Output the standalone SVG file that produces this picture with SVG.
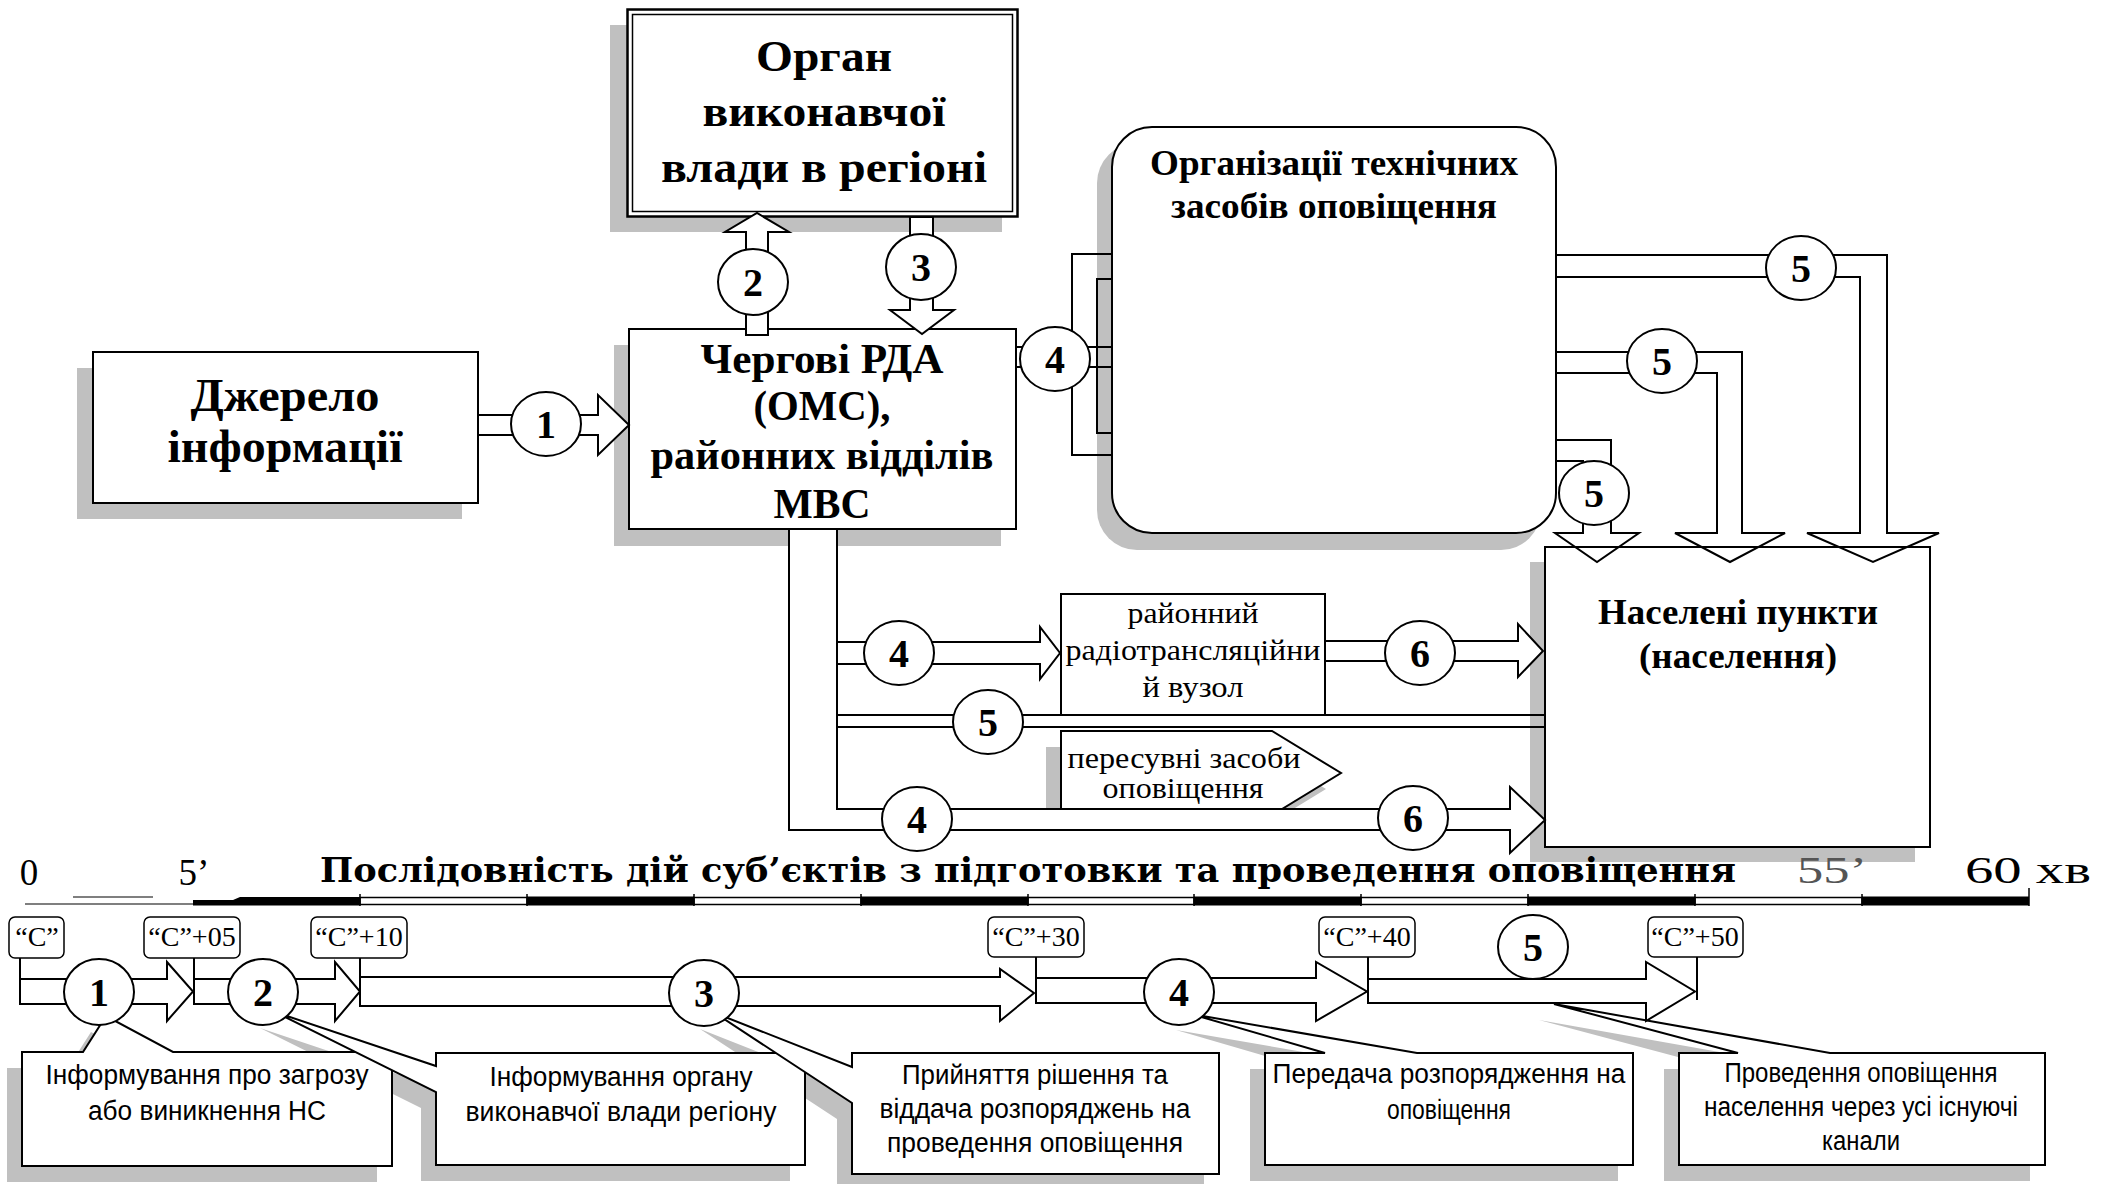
<svg xmlns="http://www.w3.org/2000/svg" width="2107" height="1184" viewBox="0 0 2107 1184">
<style>
.sh{fill:#c0c0c0;stroke:none}
.bx{fill:#fff;stroke:#000;stroke-width:2}
.ln{fill:none;stroke:#000;stroke-width:2}
.ar{fill:#fff;stroke:#000;stroke-width:2;stroke-linejoin:miter}
.arn{fill:none;stroke:#000;stroke-width:2;stroke-linejoin:miter}
.cir{fill:#fff;stroke:#000;stroke-width:2}
.num{font-family:"Liberation Serif",serif;font-weight:bold;font-size:40px;text-anchor:middle}
.hb{font-family:"Liberation Serif",serif;font-weight:bold;text-anchor:middle}
.tr{font-family:"Liberation Serif",serif;text-anchor:middle}
.sa{font-family:"Liberation Sans",sans-serif;text-anchor:middle;font-size:27px}
.tb{fill:#fff;stroke:#000;stroke-width:1.5}
.tl{font-family:"Liberation Serif",serif;font-size:28px;text-anchor:middle}
</style>
<rect x="0" y="0" width="2107" height="1184" fill="#fff"/>

<!-- Nodes: top part -->
<g id="node-dzherelo">
  <rect class="sh" x="77" y="368" width="385" height="151"/>
  <rect class="bx" x="93" y="352" width="385" height="151"/>
  <text class="hb" font-size="46" x="285" y="411" textLength="189" lengthAdjust="spacingAndGlyphs">Джерело</text>
  <text class="hb" font-size="46" x="285" y="462" textLength="235" lengthAdjust="spacingAndGlyphs">інформації</text>
</g>
<g id="node-organ">
  <rect class="sh" x="610" y="25" width="392" height="207"/>
  <rect x="627.5" y="9.5" width="390" height="207" fill="#fff" stroke="#000" stroke-width="2.5"/>
  <rect x="632.5" y="14.5" width="380" height="197" fill="none" stroke="#000" stroke-width="1.5"/>
  <text class="hb" font-size="45" x="824" y="71" textLength="136" lengthAdjust="spacingAndGlyphs">Орган</text>
  <text class="hb" font-size="45" x="824" y="126" textLength="243" lengthAdjust="spacingAndGlyphs">виконавчої</text>
  <text class="hb" font-size="45" x="824" y="182" textLength="326" lengthAdjust="spacingAndGlyphs">влади в регіоні</text>
</g>
<g id="node-chergovi">
  <rect class="sh" x="614" y="345" width="387" height="201"/>
  <rect class="bx" x="629" y="329" width="387" height="200"/>
  <text class="hb" font-size="42" x="822" y="373" textLength="243" lengthAdjust="spacingAndGlyphs">Чергові РДА</text>
  <text class="hb" font-size="42" x="822" y="420" textLength="137" lengthAdjust="spacingAndGlyphs">(ОМС),</text>
  <text class="hb" font-size="42" x="822" y="469" textLength="343" lengthAdjust="spacingAndGlyphs">районних відділів</text>
  <text class="hb" font-size="42" x="822" y="518" textLength="97" lengthAdjust="spacingAndGlyphs">МВС</text>
</g>
<g id="node-orgtech">
  <rect class="sh" x="1097" y="143" width="444" height="407" rx="40"/>
  <rect class="bx" x="1112" y="127" width="444" height="406" rx="40"/>
  <text class="hb" font-size="35" x="1334" y="175" textLength="368" lengthAdjust="spacingAndGlyphs">Організації технічних</text>
  <text class="hb" font-size="35" x="1334" y="218" textLength="326" lengthAdjust="spacingAndGlyphs">засобів оповіщення</text>
</g>
<g id="node-naseleni">
  <rect class="sh" x="1530" y="562" width="385" height="300"/>
  <rect class="bx" x="1545" y="547" width="385" height="300"/>
  <text class="hb" font-size="35" x="1738" y="624" textLength="280" lengthAdjust="spacingAndGlyphs">Населені пункти</text>
  <text class="hb" font-size="35" x="1738" y="668" textLength="198" lengthAdjust="spacingAndGlyphs">(населення)</text>
</g>
<g id="node-radio">
  <rect class="bx" x="1061" y="594" width="264" height="121"/>
  <text class="tr" font-size="29" x="1193" y="623" textLength="131" lengthAdjust="spacingAndGlyphs">районний</text>
  <text class="tr" font-size="29" x="1193" y="660" textLength="255" lengthAdjust="spacingAndGlyphs">радіотрансляційни</text>
  <text class="tr" font-size="29" x="1193" y="697" textLength="101" lengthAdjust="spacingAndGlyphs">й вузол</text>
</g>
<g id="node-peresuvni">
  <polygon class="sh" points="1046,747 1257,747 1326,789 1267,825 1046,825"/>
  <polygon class="bx" points="1061,731 1272,731 1341,773 1282,809 1061,809"/>
  <text class="tr" font-size="29" x="1184" y="768" textLength="233" lengthAdjust="spacingAndGlyphs">пересувні засоби</text>
  <text class="tr" font-size="29" x="1183" y="798" textLength="161" lengthAdjust="spacingAndGlyphs">оповіщення</text>
</g>

<!-- Connectors: top part -->
<g id="connectors">
  <polygon class="ar" points="478,415 598,415 598,395 629,425 598,455 598,435 478,435"/>
  <polygon class="ar" points="746,335 746,232 725,232 757,213 789,232 768,232 768,335"/>
  <polygon class="ar" points="910,217 910,310 890,310 922,334 954,310 933,310 933,217"/>
  <path class="ln" d="M1016,347 H1112 M1016,367 H1112 M1112,254 H1072 V455 H1112 M1112,279 H1097 V433 H1112"/>
  <path class="arn" d="M1556,255 H1887 V533 H1939 L1873,562 L1807,533 H1860 V277 H1556"/>
  <path class="arn" d="M1556,352 H1742 V533 H1785 L1730,562 L1675,533 H1717 V373 H1556"/>
  <path class="arn" d="M1556,440 H1611 V533 H1639 L1597,562 L1555,533 H1583 V461 H1556"/>
  <path class="ar" d="M837,809 H1510 V787 L1545,820 L1510,853 V830 H789 V529 H837 Z"/>
  <path class="ln" d="M789,529 H837"/>
  <path class="ln" d="M837,529 V809"/>
  <polygon class="ar" points="837,642 1040,642 1040,627 1060,653 1040,679 1040,664 837,664"/>
  <path class="ln" d="M837,715 H1545 M837,727 H1545"/>
  <polygon class="ar" points="1325,641 1518,641 1518,624 1543,651 1518,677 1518,661 1325,661"/>

  <g id="labels-top">
    <ellipse class="cir" cx="546" cy="424" rx="35" ry="32"/><text class="num" x="546" y="438">1</text>
    <ellipse class="cir" cx="753" cy="282" rx="35" ry="33"/><text class="num" x="753" y="296">2</text>
    <ellipse class="cir" cx="921" cy="267" rx="35" ry="33"/><text class="num" x="921" y="281">3</text>
    <ellipse class="cir" cx="1055" cy="359" rx="35" ry="32"/><text class="num" x="1055" y="373">4</text>
    <ellipse class="cir" cx="1801" cy="268" rx="35" ry="32"/><text class="num" x="1801" y="282">5</text>
    <ellipse class="cir" cx="1662" cy="361" rx="35" ry="32"/><text class="num" x="1662" y="375">5</text>
    <ellipse class="cir" cx="1594" cy="493" rx="35" ry="32"/><text class="num" x="1594" y="507">5</text>
    <ellipse class="cir" cx="899" cy="653" rx="35" ry="32"/><text class="num" x="899" y="667">4</text>
    <ellipse class="cir" cx="988" cy="722" rx="35" ry="32"/><text class="num" x="988" y="736">5</text>
    <ellipse class="cir" cx="917" cy="819" rx="35" ry="32"/><text class="num" x="917" y="833">4</text>
    <ellipse class="cir" cx="1420" cy="653" rx="35" ry="32"/><text class="num" x="1420" y="667">6</text>
    <ellipse class="cir" cx="1413" cy="818" rx="35" ry="32"/><text class="num" x="1413" y="832">6</text>
  </g>
</g>

<!-- Timeline -->
<g id="timeline">
  <text class="tr" font-size="37" x="29" y="885">0</text>
  <text class="tr" font-size="37" x="194" y="885">5’</text>
  <text font-family="Liberation Serif,serif" font-size="37" x="1797" y="883" fill="#555" textLength="70" lengthAdjust="spacingAndGlyphs">55’</text>
  <text font-family="Liberation Serif,serif" font-size="37" x="1965" y="883" textLength="126" lengthAdjust="spacingAndGlyphs">60 хв</text>
  <text x="320" y="882" font-family="DejaVu Serif,serif" font-weight="bold" font-size="33" textLength="1416" lengthAdjust="spacingAndGlyphs">Послідовність дій суб’єктів з підготовки та проведення оповіщення</text>
  <path d="M25,904 H193 M73,897 H153" stroke="#000" stroke-width="1.2" fill="none"/>
  <polygon points="193,900 233,900 240,897 360,897 360,905.5 193,905.5" fill="#000"/>
  <g fill="#fff" stroke="#000" stroke-width="1.5">
    <rect x="360" y="897.5" width="167" height="7"/>
    <rect x="694" y="897.5" width="167" height="7"/>
    <rect x="1028" y="897.5" width="166" height="7"/>
    <rect x="1361" y="897.5" width="167" height="7"/>
    <rect x="1695" y="897.5" width="167" height="7"/>
  </g>
  <g fill="#000">
    <rect x="527" y="896.5" width="167" height="9"/>
    <rect x="861" y="896.5" width="167" height="9"/>
    <rect x="1194" y="896.5" width="167" height="9"/>
    <rect x="1528" y="896.5" width="167" height="9"/>
    <rect x="1862" y="896.5" width="167" height="9"/>
  </g>
  <path d="M360,894 V906 M527,894 V906 M694,894 V906 M861,894 V906 M1028,894 V906 M1194,894 V906 M1361,894 V906 M1528,894 V906 M1695,894 V906 M1862,894 V906 M2029,888 V906" stroke="#000" stroke-width="1.5"/>
</g>

<!-- Time marks -->
<g id="time-marks">
  <rect class="tb" x="9" y="917" width="55" height="41" rx="6"/><text class="tl" x="37" y="946">“С”</text>
  <rect class="tb" x="144" y="917" width="96" height="41" rx="6"/><text class="tl" x="192" y="946">“С”+05</text>
  <rect class="tb" x="311" y="917" width="96" height="41" rx="6"/><text class="tl" x="359" y="946">“С”+10</text>
  <rect class="tb" x="988" y="917" width="96" height="40" rx="6"/><text class="tl" x="1036" y="946">“С”+30</text>
  <rect class="tb" x="1319" y="917" width="96" height="40" rx="6"/><text class="tl" x="1367" y="946">“С”+40</text>
  <rect class="tb" x="1648" y="917" width="95" height="40" rx="6"/><text class="tl" x="1695" y="946">“С”+50</text>
</g>

<!-- Callout shadows -->
<g id="callout-shadows">
  <path class="sh" d="M7,1068 H68 L91,1032 L158,1068 H377 V1182 H7 Z"/>
  <path class="sh" d="M421,1069 H790 V1181 H421 V1108 L260,1028 L421,1082 Z"/>
  <path class="sh" d="M837,1069 H1204 V1190 H837 V1119 L700,1029 L837,1083 Z"/>
  <path class="sh" d="M1250,1069 H1310 L1176,1030 L1402,1069 H1618 V1181 H1250 Z"/>
  <path class="sh" d="M1664,1069 H1723 L1539,1020 L1815,1069 H2030 V1181 H1664 Z"/>
</g>

<!-- Callout boxes -->
<g id="callout-1">
  <path class="bx" d="M22,1052 H83 L106,1016 L173,1052 H392 V1166 H22 Z"/>
  <text class="sa" x="207" y="1084" textLength="323" lengthAdjust="spacingAndGlyphs">Інформування про загрозу</text>
  <text class="sa" x="207" y="1120" textLength="238" lengthAdjust="spacingAndGlyphs">або виникнення НС</text>
</g>
<g id="callout-2">
  <path class="bx" d="M436,1053 H805 V1165 H436 V1092 L275,1012 L436,1066 Z"/>
  <text class="sa" x="621" y="1086" textLength="263" lengthAdjust="spacingAndGlyphs">Інформування органу</text>
  <text class="sa" x="621" y="1121" textLength="311" lengthAdjust="spacingAndGlyphs">виконавчої влади регіону</text>
</g>
<g id="callout-3">
  <path class="bx" d="M852,1053 H1219 V1174 H852 V1103 L715,1013 L852,1067 Z"/>
  <text class="sa" x="1035" y="1084" textLength="266" lengthAdjust="spacingAndGlyphs">Прийняття рішення та</text>
  <text class="sa" x="1035" y="1118" textLength="311" lengthAdjust="spacingAndGlyphs">віддача розпоряджень на</text>
  <text class="sa" x="1035" y="1152" textLength="296" lengthAdjust="spacingAndGlyphs">проведення оповіщення</text>
</g>
<g id="callout-4">
  <path class="bx" d="M1265,1053 H1325 L1191,1014 L1417,1053 H1633 V1165 H1265 Z"/>
  <text class="sa" x="1449" y="1083" textLength="353" lengthAdjust="spacingAndGlyphs">Передача розпорядження на</text>
  <text class="sa" x="1449" y="1119" textLength="124" lengthAdjust="spacingAndGlyphs">оповіщення</text>
</g>
<g id="callout-5">
  <path class="bx" d="M1679,1053 H1738 L1554,1004 L1830,1053 H2045 V1165 H1679 Z"/>
  <text class="sa" font-size="23" x="1861" y="1082" textLength="273" lengthAdjust="spacingAndGlyphs">Проведення оповіщення</text>
  <text class="sa" font-size="23" x="1861" y="1116" textLength="314" lengthAdjust="spacingAndGlyphs">населення через усі існуючі</text>
  <text class="sa" font-size="23" x="1861" y="1150" textLength="78" lengthAdjust="spacingAndGlyphs">канали</text>
</g>

<!-- Timeline connectors -->
<g id="timeline-connectors">
  <path class="ln" d="M20,958 V979 M194,958 V979 M360,958 V977 M1036,957 V978 M1368,957 V979 M1697,957 V1000" stroke-width="1.5"/>
  <polygon class="ar" points="20,979 167,979 167,962 193,991.5 167,1021 167,1004 20,1004"/>
  <polygon class="ar" points="194,979 335,979 335,962 360,991.5 335,1021 335,1004 194,1004"/>
  <polygon class="ar" points="360,977 1000,977 1000,969 1034,993 1000,1021 1000,1006 360,1006"/>
  <polygon class="ar" points="1036,978 1316,978 1316,962 1367,991.5 1316,1021 1316,1003 1036,1003"/>
  <polygon class="ar" points="1368,979 1646,979 1646,962 1695,991.5 1646,1021 1646,1003 1368,1003"/>
  <ellipse class="cir" cx="99" cy="992" rx="35" ry="33"/><text class="num" x="99" y="1006">1</text>
  <ellipse class="cir" cx="263" cy="992" rx="35" ry="33"/><text class="num" x="263" y="1006">2</text>
  <ellipse class="cir" cx="704" cy="993" rx="35" ry="33"/><text class="num" x="704" y="1007">3</text>
  <ellipse class="cir" cx="1179" cy="992" rx="35" ry="33"/><text class="num" x="1179" y="1006">4</text>
  <ellipse class="cir" cx="1533" cy="947" rx="35" ry="32"/><text class="num" x="1533" y="961">5</text>
</g>
</svg>
